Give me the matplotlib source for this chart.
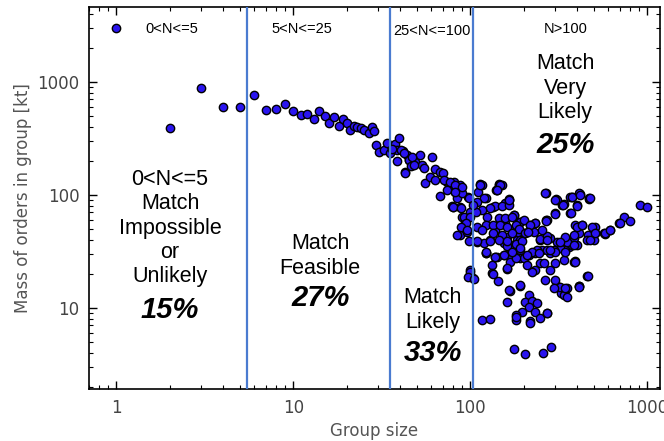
import matplotlib
matplotlib.use('Agg')
import matplotlib.pyplot as plt
from matplotlib.ticker import FuncFormatter, LogLocator

# group size vs mass of orders
small_x = [1, 2, 3, 4, 5, 6, 7, 8, 9, 10, 11, 12, 13, 14, 15, 16, 17, 18, 19, 20,
           21, 22, 23, 24, 25, 26.6, 27.8, 28.7]
small_y = [3000, 390, 880, 600, 600, 765, 565, 575, 640, 555, 515, 517, 470, 555, 500,
           430, 487, 408, 468, 430, 376, 410, 402, 389, 376, 356, 402, 371]

mid_x = [29.4, 30.5, 32.7, 33.8, 35.3, 37.3, 39.7, 38.5, 41.5, 43, 38.5, 40.5, 43.9, 43,
         48.9, 51.7, 53.3, 55.7, 60.8, 58.9, 63.4, 67.1, 70.1, 67.7, 73.8, 78.8, 81.2,
         87.8, 82.2, 78.8, 87.1, 84, 97, 89.8, 93.7, 87.8, 95.7, 44.8, 45, 47, 46, 36, 42,
         47.8, 54.5, 63.4, 75.4, 89.8, 80, 100, 70.6, 77, 82, 90, 74, 82, 80, 88, 98, 92,
         100, 94, 88, 96, 84, 98]
mid_y = [277, 241, 250, 287, 234, 281, 318, 201, 247, 161, 250, 250, 226, 157,
         197, 226, 184, 127, 216, 145, 169, 161, 156, 98, 131, 119, 131,
         123, 107, 80, 78, 94, 95.5, 64, 56, 44, 47, 204, 205, 215, 180, 255, 235,
         184, 172, 136, 127, 103.5, 79, 71, 136, 131, 122, 118, 111, 107, 79, 77, 94, 64,
         64, 56, 52, 49, 44, 39]

big_x = [109, 114, 111, 122, 123, 141, 146, 135, 158, 165, 151, 176, 192, 138, 130, 161,
         183, 142, 165, 205, 100, 133, 191, 172,
         122, 138, 154, 168, 161, 191, 214, 233, 249, 283, 302, 337, 359, 400, 384, 99,
         104, 97, 133, 143, 167, 161, 191, 214, 205, 223, 214, 238, 196, 182, 233, 249,
         271, 218, 180, 116, 130, 177, 205, 257, 286, 309, 344, 325, 409, 456, 119, 155,
         175, 254, 316, 344,
         269, 306, 330, 375, 415, 466, 401, 367, 302, 269, 233, 218, 912, 996, 735, 801,
         689, 618, 579, 508, 508, 498, 460, 428, 392, 409, 387, 375, 352, 322, 309,
         283, 296, 392, 460, 413, 352, 320, 337, 302, 265, 283, 260, 233, 238, 191, 161,
         165, 151, 165, 176, 158, 191, 187, 205, 191, 228, 249, 223, 200, 180, 176, 161,
         223, 209,
         703, 566, 456, 409, 392, 344, 352, 296, 271, 218, 180, 105, 134,
         116, 146, 140, 265, 309, 337, 367, 409, 466,
         114, 148, 141, 119, 109, 138, 151, 165, 165, 130, 116, 107, 124, 145, 158, 172,
         200, 233, 218, 271, 109, 122, 135, 148, 161, 180, 188, 116, 135, 151, 172, 204,
         213, 109, 130, 145, 161, 180, 196, 248, 271, 122, 138, 154, 172, 192, 209, 243,
         271, 104,
         302, 334, 375, 415, 472, 401, 371, 302, 269, 401, 427, 487, 508, 579, 612, 476,
         384, 344, 322, 302, 344, 384, 271, 283, 254]
big_y = [38.6, 125, 107, 94, 30.5, 111, 125, 79, 84.5, 90, 60, 66.5, 58, 49, 40, 42.8,
         40, 28.4, 29.5, 28.4, 21.7, 24, 32.6, 49,
         30.9, 28, 29.4, 25.7, 22, 27.5, 29.4, 30.5, 24.9, 30.5, 24.9, 26.6, 34.9, 36, 25.7,
         21, 18.3, 18.7, 20.3, 17.5, 14.2, 11.4, 15.7, 13, 11.4, 11.6, 10.3, 11.1, 9.3,
         8.7, 9.3, 8.1, 9.1, 7.6, 7.8, 7.8, 8.0, 4.3, 3.9, 4.0, 4.5, 15.5, 14.4, 13.5,
         15.5, 19.2, 37.3, 37.3, 33.7, 32.6, 34.9, 32.6,
         103.5, 91.6, 81.6, 96.6, 101, 92, 82, 69, 69, 60, 56, 54, 82, 78, 64, 59,
         56, 49, 45, 52, 46, 40, 44, 54, 54, 45.8, 41.4, 36, 38.6, 33.7, 38.6,
         41.4, 32.6, 26.3, 19.2, 15.5, 14.9, 15.2, 13, 17.7, 17.7, 21.7, 24.9, 21.7, 32.6,
         16, 22.4, 14.4, 122, 91.6, 66.5, 56, 58, 47, 45.8, 40, 47, 40, 31.5, 27.5, 27.5,
         36, 35, 21, 24,
         56, 45.8, 40, 15.2, 25.7, 14.9, 12.6, 14.9, 9.0, 7.3, 8.4, 18, 20,
         122, 122, 111, 103.5, 90, 83, 96.6, 103.5, 94,
         122, 122, 111, 94, 87, 80, 80, 82, 90, 76, 74, 71, 64, 62, 62, 64,
         60, 56, 54, 60, 52, 54, 54, 54, 52, 54, 50, 49, 46, 44, 46, 46,
         47, 39, 39, 40, 39, 37, 39, 41, 43, 31.5, 28.4, 29.4, 31.5, 34, 29.4, 30.5,
         32.6, 82,
         90, 82, 95.5, 100, 94, 80, 69, 68, 59, 52, 54, 52, 46, 46, 49, 40,
         44, 42.7, 38.6, 31.5, 31.5, 36, 40, 32.6, 49]

xs = small_x + mid_x + big_x
ys = small_y + mid_y + big_y

# bin boundaries drawn as vertical lines
bounds = [5.5, 35, 104]

top_labels = ['0<N<=5', '5<N<=25', '25<N<=100', 'N>100']
blocks = ['0<N<=5\nMatch\nImpossible\nor\nUnlikely', 'Match\nFeasible',
          'Match\nLikely', 'Match\nVery\nLikely']
shares = ['15%', '27%', '33%', '25%']

fig = plt.figure(figsize=(6.64, 4.41), dpi=100)
ax = fig.add_axes([0.134, 0.118, 0.860, 0.866])

ax.scatter(xs, ys, s=36, c='#2a14f0', edgecolors='black', linewidths=1, zorder=3)
for b in bounds:
    ax.axvline(b, color='#4a7bd0', lw=1.6, zorder=4)

ax.set_xscale('log')
ax.set_yscale('log')
ax.set_xlim(0.7, 1180)
ax.set_ylim(1.92, 4600)

fmt = FuncFormatter(lambda v, p: '%d' % v)
ax.xaxis.set_major_formatter(fmt)
ax.yaxis.set_major_formatter(fmt)
ax.xaxis.set_minor_locator(LogLocator(base=10, subs=range(2, 10)))
ax.yaxis.set_minor_locator(LogLocator(base=10, subs=range(2, 10)))
ax.tick_params(which='both', direction='in', top=True, right=True, colors='black',
               labelcolor='#444444', labelsize=12, pad=7)
ax.tick_params(which='major', length=6, width=1)
ax.tick_params(which='minor', length=3, width=0.8)
for sp in ax.spines.values():
    sp.set_linewidth(1.2)

ax.set_xlabel('Group size', fontsize=12, color='#555555')
ax.set_ylabel('Mass of orders in group [kt]', fontsize=12, color='#555555')

arial = 'Liberation Sans'
top_pos = [(0.145, 0.942), (0.373, 0.942), (0.601, 0.937), (0.834, 0.942)]
for (fx, fy), t in zip(top_pos, top_labels):
    ax.text(fx, fy, t, transform=ax.transAxes, ha='center', va='center',
            fontsize=10.5, family=arial)

block_pos = [(0.142, 0.421), (0.405, 0.348), (0.602, 0.207), (0.834, 0.788)]
share_pos = [(0.142, 0.207), (0.405, 0.238), (0.602, 0.094), (0.834, 0.639)]
for (fx, fy), t in zip(block_pos, blocks):
    ax.text(fx, fy, t, transform=ax.transAxes, ha='center', va='center',
            fontsize=15.5, family=arial, linespacing=1.2, zorder=5)
for (fx, fy), t in zip(share_pos, shares):
    ax.text(fx, fy, t, transform=ax.transAxes, ha='center', va='center',
            fontsize=21, family=arial, weight='bold', style='italic', zorder=5)

plt.savefig('out.png', dpi=100)
